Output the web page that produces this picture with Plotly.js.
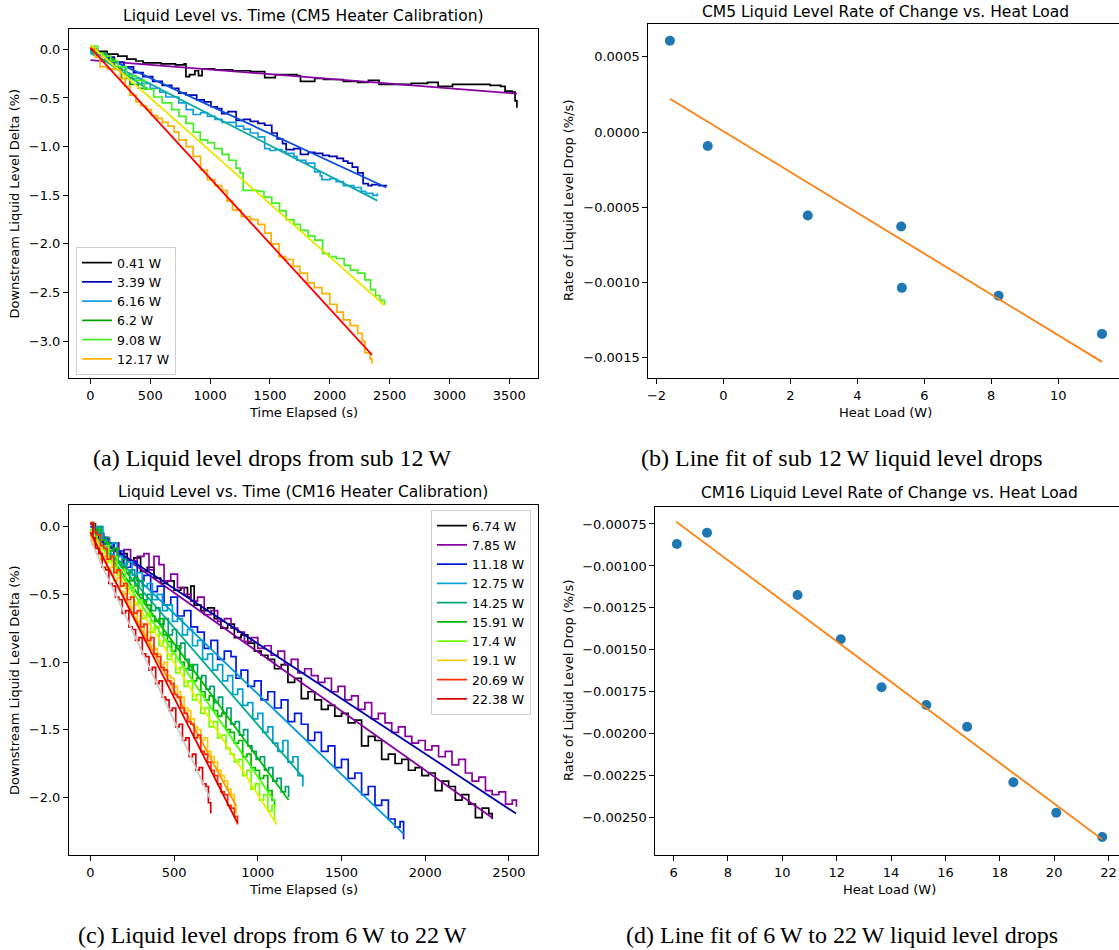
<!DOCTYPE html>
<html><head><meta charset="utf-8">
<script src="https://cdn.plot.ly/plotly-3.0.1.min.js"></script>
<style>body{margin:0;background:#fff}#chart{width:1119px;height:950px}</style>
</head><body><div id="chart"></div>
<script>
// ---------- Panel (a): CM5 liquid level vs time ----------
const aNames = ['0.41 W','3.39 W','6.16 W','6.2 W','9.08 W','12.17 W'];
const aColors = ['#000000','#0000b4','#10a0e0','#00a000','#40f020','#ffb000'];
const aFitColors = ['#8800a0','#0a50e0','#10a8a8','#10b080','#e8e800','#ff0000'];
const aT041 = [0,36,140,230,305,380,440,590,710,783,798,828,873,903,933,1037,1187,1336,1456,1545,1725,1755,1874,1949,2113,2233,2322,2412,2562,2681,2816,2905,3025,3189,3339,3428,3464,3524,3548,3563];
const aY041 = [0,-0.02,-0.05,-0.07,-0.10,-0.12,-0.14,-0.15,-0.16,-0.15,-0.28,-0.26,-0.22,-0.27,-0.20,-0.21,-0.22,-0.23,-0.29,-0.26,-0.27,-0.33,-0.30,-0.31,-0.33,-0.34,-0.32,-0.36,-0.36,-0.35,-0.34,-0.38,-0.36,-0.36,-0.37,-0.38,-0.43,-0.44,-0.53,-0.60];
const aT339 = [0,60,120,200,280,360,439,520,600,679,738,800,888,950,1007,1060,1097,1150,1217,1280,1336,1400,1456,1515,1560,1605,1635,1700,1755,1820,1874,1940,1994,2060,2113,2150,2188,2233,2278,2320,2352,2412,2472];
const aY339 = [0,-0.04,-0.08,-0.13,-0.18,-0.24,-0.28,-0.33,-0.37,-0.40,-0.45,-0.47,-0.52,-0.54,-0.59,-0.61,-0.66,-0.64,-0.73,-0.72,-0.74,-0.76,-0.78,-0.86,-0.92,-0.97,-1.03,-1.02,-1.08,-1.06,-1.07,-1.09,-1.10,-1.12,-1.15,-1.17,-1.21,-1.27,-1.38,-1.40,-1.39,-1.40,-1.41];
const aT616 = [0,60,140,200,290,350,430,500,580,630,738,800,858,920,978,1040,1100,1217,1280,1336,1400,1456,1500,1545,1600,1635,1700,1725,1800,1874,1920,1934,2000,2053,2113,2200,2263,2300,2360,2397];
const aY616 = [-0.03,-0.05,-0.11,-0.18,-0.26,-0.30,-0.35,-0.40,-0.44,-0.49,-0.55,-0.62,-0.67,-0.65,-0.69,-0.72,-0.75,-0.79,-0.82,-0.86,-0.90,-1.02,-1.04,-1.03,-1.05,-1.07,-1.10,-1.14,-1.17,-1.26,-1.30,-1.34,-1.33,-1.36,-1.40,-1.42,-1.46,-1.48,-1.50,-1.48];
const aT620 = [0,50,120,200,260,330,400,470];
const aY620 = [-0.02,-0.04,-0.10,-0.20,-0.30,-0.36,-0.40,-0.42];
const aT908 = [0,60,111,170,230,300,380,450,529,600,679,740,798,860,918,980,1037,1100,1157,1217,1250,1276,1330,1396,1450,1515,1580,1635,1700,1755,1820,1874,1940,1994,2053,2120,2173,2233,2293,2340,2382,2420,2457];
const aY908 = [0.03,-0.04,-0.07,-0.12,-0.18,-0.27,-0.32,-0.41,-0.49,-0.55,-0.62,-0.69,-0.76,-0.85,-0.93,-0.96,-1.02,-1.08,-1.14,-1.22,-1.27,-1.45,-1.45,-1.46,-1.52,-1.58,-1.66,-1.75,-1.80,-1.86,-1.92,-1.96,-2.10,-2.13,-2.15,-2.22,-2.27,-2.30,-2.37,-2.47,-2.53,-2.58,-2.63];
const aT1217 = [0,40,81,140,200,250,290,330,380,420,469,510,559,600,649,700,738,800,858,920,977,1040,1097,1140,1187,1260,1336,1400,1456,1510,1575,1630,1695,1750,1814,1870,1934,2000,2060,2113,2170,2233,2270,2293,2337,2352];
const aY1217 = [0.01,-0.08,-0.18,-0.20,-0.21,-0.30,-0.38,-0.47,-0.54,-0.58,-0.62,-0.68,-0.71,-0.75,-0.79,-0.85,-0.93,-1.00,-1.10,-1.24,-1.34,-1.40,-1.45,-1.56,-1.65,-1.72,-1.75,-1.80,-1.89,-2.00,-2.13,-2.16,-2.23,-2.30,-2.40,-2.45,-2.51,-2.62,-2.70,-2.78,-2.84,-2.92,-3.00,-3.12,-3.18,-3.23];
const aFitT = [[0,3563],[0,2472],[0,2397],[0,470],[0,2457],[0,2352]];
const aFitY = [[-0.11,-0.455],[-0.01,-1.42],[-0.04,-1.555],[-0.02,-0.40],[0.045,-2.63],[0.017,-3.14]];

// ---------- Panel (b): CM5 rate vs heat load ----------
const bHeat = [-1.60,-0.47,2.52,5.31,5.33,8.22,11.31];
const bRate = [0.000607,-0.0000931,-0.000554,-0.000627,-0.001035,-0.001088,-0.001341];
const bFitX = [-1.60,11.31];
const bFitY = [0.000222,-0.001527];

// ---------- Panel (c): CM16 liquid level vs time ----------
const cNames = ['6.74 W','7.85 W','11.18 W','12.75 W','14.25 W','15.91 W','17.4 W','19.1 W','20.69 W','22.38 W'];
const cColors = ['#000000','#8800a0','#0018e0','#00a0d0','#00a070','#00b800','#70ff00','#ffc800','#ff2a00','#e00000'];
const cFitColors = ['#8800a0','#0000a8','#0099dd','#00aa88','#00bb00','#44ff00','#eeee00','#ff9900','#dd0000','#cccccc'];
const cT674 = [0,30,60,100,140,180,220,260,300,340,380,420,460,500,540,580,600,620,660,700,740,780,820,860,900,940,980,1020,1060,1100,1140,1180,1220,1260,1300,1340,1380,1420,1460,1500,1540,1580,1620,1660,1700,1740,1780,1820,1860,1900,1940,1980,2020,2060,2100,2140,2180,2220,2260,2300,2340,2380,2400];
const cY674 = [0.02,-0.05,-0.08,-0.12,-0.18,-0.20,-0.25,-0.23,-0.33,-0.30,-0.38,-0.42,-0.40,-0.47,-0.45,-0.52,-0.44,-0.58,-0.62,-0.60,-0.68,-0.75,-0.72,-0.82,-0.80,-0.86,-0.92,-0.95,-0.98,-1.05,-1.02,-1.15,-1.12,-1.27,-1.22,-1.28,-1.35,-1.32,-1.40,-1.38,-1.45,-1.43,-1.62,-1.55,-1.58,-1.72,-1.68,-1.75,-1.72,-1.80,-1.78,-1.84,-1.82,-1.95,-1.88,-1.92,-2.02,-1.98,-2.05,-2.15,-2.08,-2.12,-2.16];
const cT785 = [0,25,50,80,110,140,170,200,240,280,320,350,380,410,440,480,520,560,600,640,680,720,760,800,840,880,920,960,1000,1040,1080,1120,1160,1200,1240,1280,1320,1360,1400,1440,1480,1520,1560,1600,1640,1680,1720,1760,1800,1840,1880,1920,1960,2000,2040,2080,2120,2160,2200,2240,2280,2320,2360,2400,2440,2480,2520,2545];
const cY785 = [0.0,-0.05,-0.10,-0.08,-0.15,-0.12,-0.20,-0.17,-0.25,-0.22,-0.20,-0.32,-0.22,-0.28,-0.40,-0.35,-0.45,-0.50,-0.55,-0.52,-0.65,-0.62,-0.70,-0.68,-0.75,-0.78,-0.85,-0.82,-0.90,-0.88,-0.95,-0.92,-1.02,-0.98,-1.08,-1.05,-1.10,-1.15,-1.12,-1.22,-1.18,-1.28,-1.25,-1.35,-1.30,-1.42,-1.38,-1.45,-1.52,-1.48,-1.55,-1.60,-1.58,-1.65,-1.62,-1.70,-1.66,-1.76,-1.72,-1.82,-1.88,-1.85,-1.95,-1.98,-1.96,-2.05,-2.02,-2.07];
const cT1118 = [0,25,50,80,110,140,170,200,240,280,320,360,400,440,480,520,560,600,640,680,720,760,800,840,870,900,940,980,1020,1060,1100,1140,1180,1220,1260,1300,1340,1380,1420,1460,1500,1540,1580,1620,1660,1700,1740,1780,1820,1850,1871];
const cY1118 = [0.0,-0.08,-0.05,-0.14,-0.12,-0.22,-0.18,-0.30,-0.26,-0.40,-0.36,-0.48,-0.44,-0.58,-0.52,-0.66,-0.62,-0.74,-0.78,-0.90,-0.84,-0.98,-0.92,-0.96,-1.12,-1.06,-1.18,-1.14,-1.28,-1.22,-1.34,-1.28,-1.44,-1.38,-1.46,-1.58,-1.52,-1.66,-1.62,-1.78,-1.72,-1.86,-1.82,-1.98,-1.92,-2.06,-2.02,-2.16,-2.22,-2.18,-2.31];
const cT1275 = [0,25,50,75,100,130,160,190,220,250,280,310,340,370,400,430,460,490,520,550,580,610,640,670,700,730,760,790,820,850,880,910,940,970,1000,1030,1060,1090,1120,1150,1180,1210,1240,1269];
const cY1275 = [0.02,-0.06,0.0,-0.10,-0.14,-0.12,-0.22,-0.28,-0.26,-0.36,-0.34,-0.44,-0.42,-0.54,-0.50,-0.62,-0.58,-0.70,-0.68,-0.80,-0.76,-0.88,-0.84,-0.98,-0.94,-1.06,-1.02,-1.14,-1.10,-1.24,-1.20,-1.32,-1.30,-1.42,-1.38,-1.52,-1.48,-1.60,-1.66,-1.58,-1.74,-1.70,-1.84,-1.92];
const cT1425 = [0,20,40,65,90,115,140,165,190,215,240,265,290,315,340,365,390,415,440,465,490,515,540,565,590,615,640,665,690,715,740,765,790,815,840,865,890,915,940,965,990,1015,1040,1065,1090,1115,1140,1165,1184];
const cY1425 = [0.03,-0.04,0.0,-0.10,-0.08,-0.18,-0.16,-0.26,-0.24,-0.34,-0.32,-0.44,-0.40,-0.54,-0.50,-0.62,-0.60,-0.72,-0.68,-0.80,-0.76,-0.90,-0.86,-0.98,-1.06,-1.02,-1.12,-1.10,-1.20,-1.18,-1.30,-1.26,-1.38,-1.34,-1.46,-1.44,-1.54,-1.50,-1.62,-1.66,-1.72,-1.70,-1.80,-1.78,-1.88,-1.86,-1.96,-1.92,-2.00];
const cT1591 = [0,20,40,60,85,110,135,160,185,210,235,260,285,310,335,360,385,410,435,460,485,510,535,560,585,610,635,660,685,710,735,760,785,810,835,860,885,910,935,960,985,1010,1035,1060,1085,1100];
const cY1591 = [0.02,-0.04,-0.02,-0.10,-0.12,-0.18,-0.16,-0.26,-0.30,-0.34,-0.40,-0.38,-0.50,-0.55,-0.58,-0.66,-0.70,-0.68,-0.80,-0.85,-0.92,-0.88,-1.00,-1.05,-1.02,-1.14,-1.12,-1.22,-1.28,-1.25,-1.36,-1.40,-1.38,-1.50,-1.52,-1.60,-1.58,-1.70,-1.68,-1.78,-1.80,-1.86,-1.84,-1.95,-2.02,-2.06];
const cT1740 = [0,20,40,60,85,110,135,160,185,210,235,260,285,310,335,360,385,410,435,460,485,510,535,560,585,610,635,660,685,710,735,760,785,810,835,860,885,910,935,960,985,1010,1035,1060,1085,1100];
const cY1740 = [-0.02,-0.08,-0.06,-0.16,-0.14,-0.26,-0.22,-0.36,-0.32,-0.46,-0.44,-0.58,-0.54,-0.68,-0.64,-0.78,-0.74,-0.88,-0.84,-0.98,-0.94,-1.08,-1.04,-1.18,-1.14,-1.28,-1.24,-1.38,-1.34,-1.48,-1.44,-1.56,-1.54,-1.64,-1.68,-1.74,-1.72,-1.84,-1.80,-1.94,-1.90,-2.02,-1.98,-2.10,-2.06,-2.18];
const cT1910 = [0,20,40,60,80,100,120,140,160,180,200,220,240,260,280,300,320,340,360,380,400,420,440,460,480,500,520,540,560,580,600,620,640,660,680,700,720,740,760,780,800,820,840,860,870];
const cY1910 = [-0.10,-0.14,-0.16,-0.24,-0.22,-0.32,-0.30,-0.40,-0.38,-0.48,-0.50,-0.56,-0.60,-0.64,-0.70,-0.72,-0.80,-0.78,-0.88,-0.90,-0.94,-1.02,-1.00,-1.10,-1.12,-1.18,-1.22,-1.26,-1.34,-1.36,-1.42,-1.48,-1.50,-1.58,-1.56,-1.66,-1.70,-1.74,-1.80,-1.84,-1.88,-1.94,-1.98,-2.06,-2.12];
const cT2069 = [0,20,40,60,80,100,120,140,160,180,200,220,240,260,280,300,320,340,360,380,400,420,440,460,480,500,520,540,560,580,600,620,640,660,680,700,720,740,760,780,800,820,840,860,879];
const cY2069 = [0.03,-0.04,-0.06,-0.14,-0.16,-0.24,-0.22,-0.34,-0.32,-0.44,-0.42,-0.54,-0.52,-0.64,-0.62,-0.74,-0.72,-0.84,-0.82,-0.94,-0.96,-1.04,-1.06,-1.14,-1.16,-1.24,-1.26,-1.34,-1.38,-1.44,-1.46,-1.56,-1.54,-1.66,-1.68,-1.74,-1.80,-1.84,-1.90,-1.96,-1.98,-2.06,-2.08,-2.14,-2.20];
const cT2238 = [0,15,30,50,70,90,110,130,150,170,190,210,230,250,270,290,310,330,350,370,390,410,430,450,470,490,510,530,550,570,590,610,630,650,670,690,705,719];
const cY2238 = [0.02,-0.08,-0.16,-0.20,-0.30,-0.32,-0.42,-0.44,-0.52,-0.54,-0.64,-0.62,-0.74,-0.76,-0.84,-0.82,-0.94,-0.96,-1.06,-1.04,-1.16,-1.14,-1.26,-1.28,-1.36,-1.34,-1.48,-1.46,-1.58,-1.56,-1.70,-1.68,-1.80,-1.78,-1.90,-1.92,-2.04,-2.12];
const cFitT = [[0,2400],[0,2543],[0,1871],[0,1269],[0,1184],[0,1100],[0,1113],[0,870],[0,879],[0,719]];
const cFitY = [[-0.05,-2.15],[-0.05,-2.12],[-0.05,-2.27],[-0.03,-1.85],[-0.02,-2.02],[-0.02,-2.03],[-0.03,-2.20],[-0.06,-2.06],[-0.04,-2.19],[-0.10,-2.02]];

// ---------- Panel (d): CM16 rate vs heat load ----------
const dHeat = [6.12,7.23,10.56,12.15,13.65,15.30,16.80,18.50,20.08,21.77];
const dRate = [-0.000869,-0.000802,-0.001173,-0.001437,-0.001723,-0.001828,-0.001958,-0.002289,-0.002470,-0.002615];
const dFitX = [6.09,21.77];
const dFitY = [-0.000736,-0.002629];

// ---------- build ----------
const W = 1119, H = 950;
const px = v => v / W, py = v => 1 - v / H;
const FONT = 'DejaVu Sans, Verdana, sans-serif';
const TK = 13, LB = 13, TT = 15.5, LG = 12.5;
const traces = [];
const aT = [aT041,aT339,aT616,aT620,aT908,aT1217];
const aY = [aY041,aY339,aY616,aY620,aY908,aY1217];
aNames.forEach((n,i)=>{
  traces.push({x:aT[i],y:aY[i],mode:'lines',name:n,line:{shape:'hv',color:aColors[i],width:1.7},xaxis:'x',yaxis:'y',legend:'legend'});
  traces.push({x:aFitT[i],y:aFitY[i],mode:'lines',showlegend:false,line:{color:aFitColors[i],width:1.8},xaxis:'x',yaxis:'y'});
});
traces.push({x:bHeat,y:bRate,mode:'markers',showlegend:false,marker:{color:'#1f77b4',size:10},xaxis:'x2',yaxis:'y2'});
traces.push({x:bFitX,y:bFitY,mode:'lines',showlegend:false,line:{color:'#ff7f0e',width:1.8},xaxis:'x2',yaxis:'y2'});
const cT = [cT674,cT785,cT1118,cT1275,cT1425,cT1591,cT1740,cT1910,cT2069,cT2238];
const cY = [cY674,cY785,cY1118,cY1275,cY1425,cY1591,cY1740,cY1910,cY2069,cY2238];
cNames.forEach((n,i)=>{
  traces.push({x:cT[i],y:cY[i],mode:'lines',name:n,line:{shape:'hv',color:cColors[i],width:1.7},xaxis:'x3',yaxis:'y3',legend:'legend2'});
  traces.push({x:cFitT[i],y:cFitY[i],mode:'lines',showlegend:false,line:{color:cFitColors[i],width:1.8},xaxis:'x3',yaxis:'y3'});
});
traces.push({x:dHeat,y:dRate,mode:'markers',showlegend:false,marker:{color:'#1f77b4',size:10},xaxis:'x4',yaxis:'y4'});
traces.push({x:dFitX,y:dFitY,mode:'lines',showlegend:false,line:{color:'#ff7f0e',width:1.8},xaxis:'x4',yaxis:'y4'});

function ax(domain, range, anchor, tickvals, fmt, mirror){
  return {domain:domain, range:range, anchor:anchor, tickvals:tickvals, tickformat:fmt,
    showline:true, mirror:mirror, linecolor:'#000', linewidth:1, ticks:'outside', ticklen:5, tickwidth:1, tickcolor:'#000',
    showgrid:false, zeroline:false, tickfont:{family:FONT,size:TK,color:'#000'}, fixedrange:true};
}
const layout = {
  width:W, height:H, margin:{l:0,r:0,t:0,b:0}, paper_bgcolor:'#fff', plot_bgcolor:'#fff',
  font:{family:FONT,size:TK,color:'#000'},
  xaxis: ax([px(69),px(537.6)],[-179,3736],'y',[0,500,1000,1500,2000,2500,3000,3500],'d',true),
  yaxis: ax([py(378),py(29)],[-3.378,0.209],'x',[0,-0.5,-1,-1.5,-2,-2.5,-3],'.1f',true),
  xaxis2: ax([px(648.3),1],[-2.245,11.817],'y2',[-2,0,2,4,6,8,10],'d',true),
  yaxis2: ax([py(378.3),py(24.3)],[-0.001636,0.000716],'x2',[0.0005,0,-0.0005,-0.001,-0.0015],'.4f',false),
  xaxis3: ax([px(69),px(537.5)],[-127.8,2670.8],'y3',[0,500,1000,1500,2000,2500],'d',true),
  yaxis3: ax([py(855),py(505)],[-2.426,0.160],'x3',[0,-0.5,-1,-1.5,-2],'.1f',true),
  xaxis4: ax([px(655.4),1],[5.33,22.387],'y4',[6,8,10,12,14,16,18,20,22],'d',true),
  yaxis4: ax([py(855),py(506.7)],[-0.002722,-0.000647],'x4',[-0.00075,-0.001,-0.00125,-0.0015,-0.00175,-0.002,-0.00225,-0.0025],'.5f',false),
  legend:{x:px(76),y:py(247),xanchor:'left',yanchor:'top',bgcolor:'rgba(255,255,255,0.85)',bordercolor:'#d0d0d0',borderwidth:1,
    font:{family:FONT,size:LG,color:'#000'},tracegroupgap:0,itemwidth:30},
  legend2:{x:px(531),y:py(510),xanchor:'right',yanchor:'top',bgcolor:'rgba(255,255,255,0.85)',bordercolor:'#d0d0d0',borderwidth:1,
    font:{family:FONT,size:LG,color:'#000'},tracegroupgap:0,itemwidth:30},
  showlegend:true,
  annotations:[]
};
function ann(text,x,y,size,opts){
  layout.annotations.push(Object.assign({text:text,x:px(x),y:py(y),xref:'paper',yref:'paper',showarrow:false,
    xanchor:'center',yanchor:'middle',font:{family:FONT,size:size,color:'#000'}},opts||{}));
}
ann('Liquid Level vs. Time (CM5 Heater Calibration)',303,16,TT);
ann('CM5 Liquid Level Rate of Change vs. Heat Load',885.5,12,TT);
ann('Liquid Level vs. Time (CM16 Heater Calibration)',303,492,TT);
ann('CM16 Liquid Level Rate of Change vs. Heat Load',889,493,TT);
ann('Time Elapsed (s)',303,412,LB);
ann('Heat Load (W)',885.5,412,LB);
ann('Time Elapsed (s)',303,889,LB);
ann('Heat Load (W)',889,889,LB);
ann('Downstream Liquid Level Delta (%)',14,203.5,LB,{textangle:-90});
ann('Downstream Liquid Level Delta (%)',14,680,LB,{textangle:-90});
ann('Rate of Liquid Level Drop (%/s)',568,201,LB,{textangle:-90});
ann('Rate of Liquid Level Drop (%/s)',568,681,LB,{textangle:-90});
const SERIF = 'Liberation Serif, Times New Roman, serif';
const CAP = {font:{family:SERIF,size:24,color:'#000'}};
ann('(a) Liquid level drops from sub 12\u2009W',272,458,24,CAP);
ann('(b) Line fit of sub 12\u2009W liquid level drops',842,458,24,CAP);
ann('(c) Liquid level drops from 6\u2009W to 22\u2009W',272,935,24,CAP);
ann('(d) Line fit of 6\u2009W to 22\u2009W liquid level drops',842,935,24,CAP);

Plotly.newPlot('chart', traces, layout, {displayModeBar:false, staticPlot:true});
</script></body></html>
